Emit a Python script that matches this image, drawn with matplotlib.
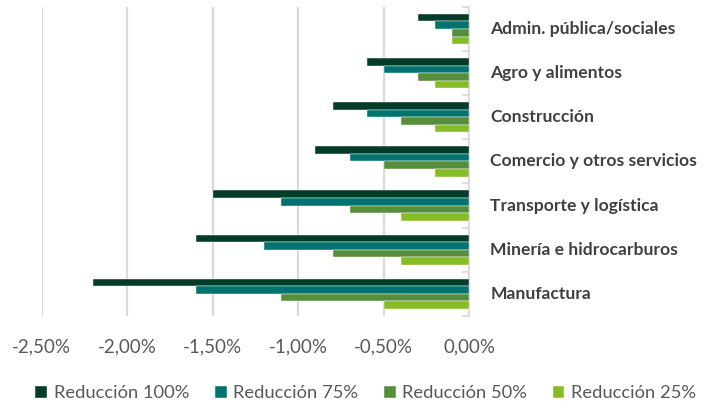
import matplotlib.pyplot as plt
import numpy as np
from matplotlib.ticker import FuncFormatter

# Sectores (de arriba hacia abajo) y caída por escenario de reducción
sectores = ["Admin. pública/sociales", "Agro y alimentos", "Construcción",
            "Comercio y otros servicios", "Transporte y logística",
            "Minería e hidrocarburos", "Manufactura"]
red_100 = [-0.30, -0.60, -0.80, -0.90, -1.50, -1.60, -2.20]
red_75 = [-0.20, -0.50, -0.60, -0.70, -1.10, -1.20, -1.60]
red_50 = [-0.10, -0.30, -0.40, -0.50, -0.70, -0.80, -1.10]
red_25 = [-0.10, -0.20, -0.20, -0.20, -0.40, -0.40, -0.50]
series = ["Reducción 100%", "Reducción 75%", "Reducción 50%", "Reducción 25%"]
colores = ["#033D2A", "#00736F", "#568E3B", "#86BC26"]
xticks = [-2.5, -2.0, -1.5, -1.0, -0.5, 0.0]

plt.rcParams['font.family'] = ['Lato', 'DejaVu Sans']

fig = plt.figure(figsize=(7.21, 4.04), dpi=100)
ax = fig.add_axes([0.058, 0.218, 0.593, 0.765])

n = len(sectores)
pos = np.arange(n)
h = 0.172
valores = [red_100, red_75, red_50, red_25]
for k, (vals, nombre, col) in enumerate(zip(valores, series, colores)):
    ax.barh(pos + (k - 1.5) * h, vals, height=h, color=col, label=nombre,
            edgecolor="white", linewidth=0.3, zorder=3)

ax.set_xlim(-2.5, 0)
ax.set_ylim(n - 0.5, -0.5)
ax.set_xticks(xticks)
ax.xaxis.set_major_formatter(FuncFormatter(lambda v, p: f"{v:.2f}%".replace(".", ",")))
ax.tick_params(axis="x", length=0, labelsize=13.5, labelcolor="#595959", pad=16)
ax.grid(axis="x", color="#D9D9D9", linewidth=1.6, zorder=0)

for s in ["top", "left", "bottom"]:
    ax.spines[s].set_visible(False)
ax.spines["right"].set_color("#D9D9D9")
ax.spines["right"].set_linewidth(1.2)
ax.yaxis.tick_right()
ax.set_yticks(np.arange(n + 1) - 0.5)
ax.set_yticklabels([])
ax.tick_params(axis="y", direction="in", length=5, color="#D9D9D9", width=1.2)

for i, nombre in enumerate(sectores):
    ax.annotate(nombre, xy=(0, i), xytext=(15, 0), textcoords="offset points",
                ha="left", va="center", fontsize=12.6, fontweight="bold",
                color="#404040", annotation_clip=False)

fig.legend(loc="center", bbox_to_anchor=(0.507, 0.027), ncol=4, frameon=False,
           fontsize=13.2, handlelength=0.65, handleheight=0.65, handletextpad=0.35,
           columnspacing=1.4, labelcolor="#595959")

fig.savefig("out.png", dpi=100)
